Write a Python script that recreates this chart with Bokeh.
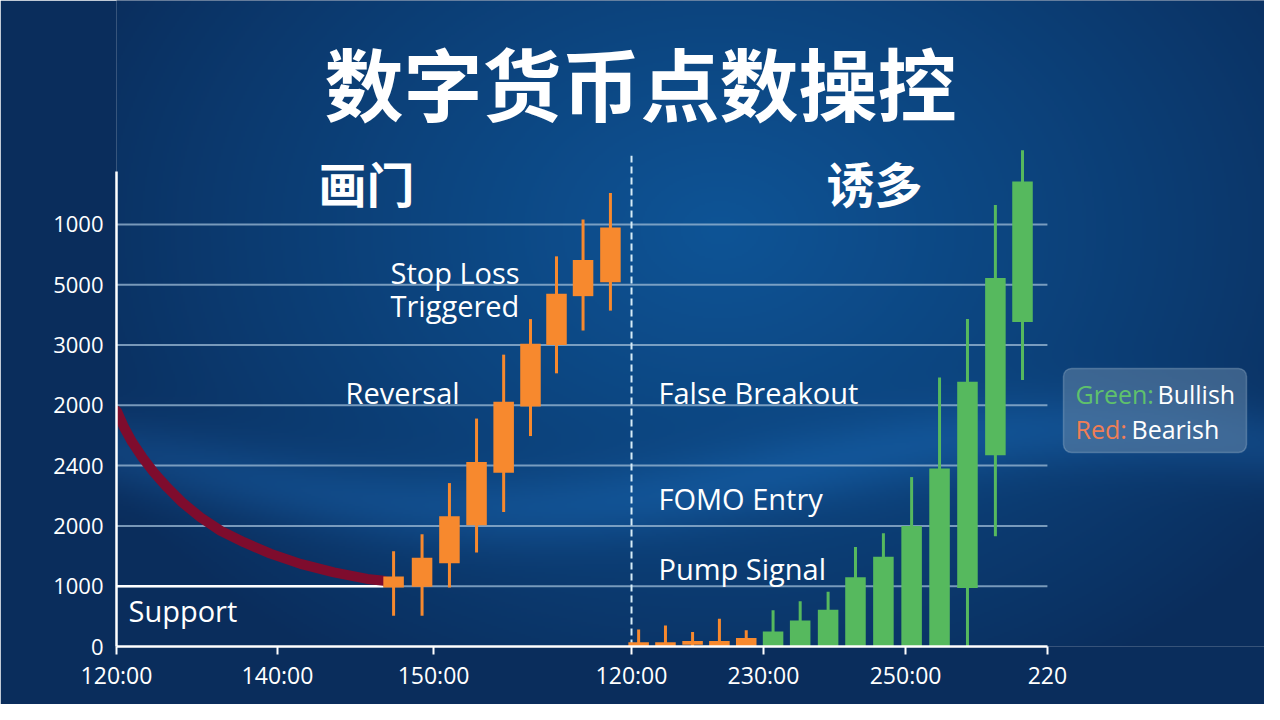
import numpy as np
from bokeh.plotting import figure
from bokeh.models import Range1d, FixedTicker, Label, BoxAnnotation
from bokeh.embed import file_html
from bokeh.resources import INLINE

# ---------------- data ----------------
y_tick_pos = [0, 1, 2, 3, 4, 5, 6, 7]
y_tick_labels = ["0", "1000", "2000", "2400", "2000", "3000", "5000", "1000"]
x_tick_pos = [0, 5.88, 11.58, 18.81, 23.63, 28.82, 34]
x_tick_labels = ["120:00", "140:00", "150:00", "120:00", "230:00", "250:00", "220"]

# left panel (画门)
left_x = [10.12, 11.16, 12.16, 13.15, 14.14, 15.12, 16.07, 17.04, 18.04]
left_body_lo = [0.98, 0.99, 1.38, 2.01, 2.88, 3.98, 5.00, 5.81, 6.04]
left_body_hi = [1.16, 1.47, 2.16, 3.06, 4.06, 5.02, 5.85, 6.41, 6.95]
left_low = [0.51, 0.51, 0.98, 1.56, 2.23, 3.49, 4.53, 5.24, 5.57]
left_high = [1.58, 1.86, 2.71, 3.78, 4.84, 5.43, 6.47, 7.08, 7.52]
left_kind = ["bear"] * 9

# right panel (诱多)
right_x = [19.07, 20.05, 21.04, 22.02, 23.00, 23.98, 24.97, 25.99, 26.99,
           28.01, 29.04, 30.06, 31.08, 32.10, 33.09]
right_body_lo = [0, 0, 0.03, 0, 0, 0, 0, 0, 0, 0, 0, 0, 0.97, 3.17, 5.38]
right_body_hi = [0.07, 0.07, 0.09, 0.09, 0.14, 0.25, 0.43, 0.61, 1.15, 1.49,
                 2.00, 2.95, 4.39, 6.11, 7.71]
right_low = [0, 0, 0, 0, 0, 0, 0, 0, 0, 0, 0, 0, 0, 1.83, 4.42]
right_high = [0.28, 0.35, 0.24, 0.46, 0.27, 0.60, 0.75, 0.91, 1.65, 1.88,
              2.81, 4.46, 5.43, 7.32, 8.23]
right_kind = ["bear"] * 5 + ["bull"] * 10

# support curve
curve_x = [0, 0.03, 0.27, 0.57, 0.94, 1.36, 1.85, 2.40, 3.07, 3.80, 4.65,
           5.62, 6.72, 7.94, 9.16, 9.76]
curve_y = [3.91, 3.89, 3.64, 3.39, 3.14, 2.89, 2.64, 2.39, 2.14, 1.92, 1.73,
           1.54, 1.37, 1.23, 1.12, 1.09]
support_level = 1.0
support_end = 9.75
divider_x = 18.81
divider_top = 8.14

# ---------------- layout ----------------
W, H = 1264, 704
FL = 116
FB = H - 646
frame_w, frame_h = W - FL, H - FB
PXX, PXY = 27.38, 60.3
X1, Y1 = frame_w / PXX, frame_h / PXY

BORDER = "#0a2d5c"
p = figure(width=W, height=H, x_range=Range1d(0, X1), y_range=Range1d(0, Y1),
           output_backend="svg", toolbar_location=None, title=None,
           min_border_left=FL, min_border_right=0, min_border_top=0,
           min_border_bottom=FB)
p.background_fill_color = BORDER
p.border_fill_color = BORDER
p.outline_line_color = None
p.xgrid.visible = False
p.ygrid.visible = False

# background gradient (decoration only)
gh, gw = frame_h // 2, frame_w // 2
yy, xx = np.mgrid[0:gh, 0:gw]
px = FL + (xx + 0.5) * 2
py = 646 - (yy + 0.5) * 2
r = np.sqrt(((px - 720) / 700.0) ** 2 + ((py - 230) / 520.0) ** 2)
f = np.clip(1 - r, 0, 1) ** 0.9
edge = np.array([10, 45, 92])
center = np.array([14, 84, 150])
col = edge[None, None, :] + (center - edge)[None, None, :] * f[..., None]
yc = 470 + 40 * np.sin((px - 200) / 190.0)
band = np.exp(-((py - yc) / 38.0) ** 2) * 0.30
col = col + np.array([20, 60, 90])[None, None, :] * band[..., None]
col = np.clip(col, 0, 255).astype(np.uint32)
img = (255 << 24) | (col[..., 2] << 16) | (col[..., 1] << 8) | col[..., 0]
p.image_rgba(image=[img.astype(np.uint32)], x=0, y=0, dw=X1, dh=Y1)

# gridlines
gy = y_tick_pos[1:]
p.segment(x0=[0] * len(gy), y0=gy, x1=[x_tick_pos[-1]] * len(gy), y1=gy,
          line_color="#9dbbd6", line_alpha=0.75, line_width=2)
# support line
p.segment(x0=[0], y0=[support_level], x1=[support_end], y1=[support_level],
          line_color="#ffffff", line_width=2.5)
# support curve
p.line(curve_x, curve_y, line_color="#7e0c2d", line_width=10,
       line_cap="round", line_join="round")
# divider
p.segment(x0=[divider_x], y0=[0], x1=[divider_x], y1=[divider_top],
          line_color="#d6ecf7", line_width=2, line_dash="7 4")

COL = {"bear": "#f7892e", "bull": "#56b95e"}

def candles(xs, lo, hi, low, high, kind):
    c = [COL[k] for k in kind]
    p.segment(x0=xs, y0=low, x1=xs, y1=high, line_color=c, line_width=3)
    p.vbar(x=xs, bottom=lo, top=hi, width=0.75, fill_color=c, line_color=None)

candles(left_x, left_body_lo, left_body_hi, left_low, left_high, left_kind)
candles(right_x, right_body_lo, right_body_hi, right_low, right_high, right_kind)

# axes
xa = p.xaxis[0]
xa.ticker = FixedTicker(ticks=x_tick_pos)
xa.major_label_overrides = {float(k): v for k, v in zip(x_tick_pos, x_tick_labels)}
xa.bounds = (0, x_tick_pos[-1])
ya = p.yaxis[0]
ya.ticker = FixedTicker(ticks=y_tick_pos)
ya.major_label_overrides = {float(k): v for k, v in zip(y_tick_pos, y_tick_labels)}
ya.bounds = (0, 7.88)
for ax in (xa, ya):
    ax.axis_line_color = "#ffffff"
    ax.axis_line_width = 2.5
    ax.major_tick_line_color = "#ffffff"
    ax.major_tick_line_width = 2
    ax.minor_tick_line_color = None
    ax.major_label_text_color = "#ffffff"
    ax.major_label_text_font = "Open Sans"
xa.major_label_text_font_size = "23px"
ya.major_label_text_font_size = "22px"
xa.major_tick_in = 0
xa.major_tick_out = 8
xa.major_label_standoff = 4
ya.major_tick_in = 0
ya.major_tick_out = 0
ya.major_label_standoff = 13

def tx(x, y):
    return (x - FL) / PXX, (646 - y) / PXY

def add_text(txt, rx, ry, size, color="#ffffff", align="left",
             font="Open Sans", bold=False):
    x, y = tx(rx, ry)
    p.add_layout(Label(x=x, y=y, text=txt, text_font=font,
                       text_font_size=f"{size}px", text_color=color,
                       text_align=align, text_baseline="middle",
                       text_font_style="bold" if bold else "normal"))

CJK = "Noto Sans CJK SC"
add_text("数字货币点数操控", 640, 81, 79, align="center", font=CJK, bold=True)
add_text("画门", 318, 181, 48, font=CJK, bold=True)
add_text("诱多", 826, 181, 48, font=CJK, bold=True)

add_text("Stop Loss", 390, 272, 29)
add_text("Triggered", 390, 305, 29)
add_text("Reversal", 345, 392, 29)
add_text("False Breakout", 658, 392, 29)
add_text("FOMO Entry", 658, 498, 29)
add_text("Pump Signal", 658, 568, 29)
add_text("Support", 128, 610, 29)

# legend box
bl, bt = tx(1063, 368)
br, bb = tx(1246, 452)
p.add_layout(BoxAnnotation(left=bl, right=br, top=bt, bottom=bb,
                           fill_color="#6c8cac", fill_alpha=0.5,
                           line_color="#b4c6d8", line_width=1.5,
                           border_radius=8))
add_text("Green:", 1075, 393, 25, color="#5fc16c")
add_text("Bullish", 1157, 393, 25)
add_text("Red:", 1075, 428, 25, color="#f07e55")
add_text("Bearish", 1131, 428, 25)

open("out.html", "w").write(file_html(p, INLINE))
